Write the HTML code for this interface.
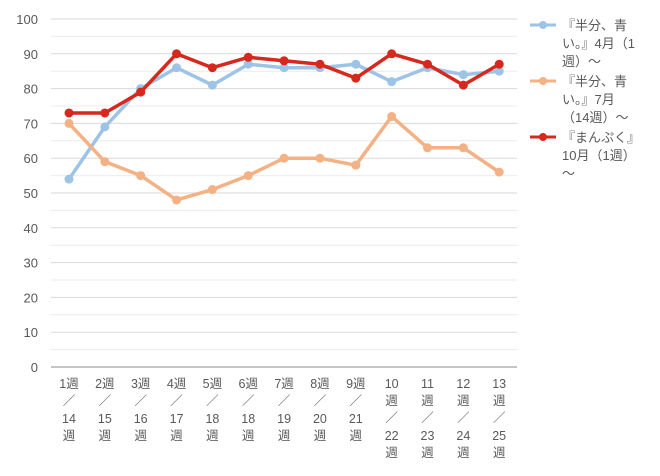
<!DOCTYPE html>
<html><head><meta charset="utf-8"><style>
body{margin:0;background:#fff}
svg text{font-family:"Liberation Sans","Noto Sans CJK JP",sans-serif;fill:#595959}
</style></head><body>
<svg width="660" height="471" xmlns="http://www.w3.org/2000/svg">
<g id="grid"></g>
<g id="lab"></g>
<g id="ser"></g>
<g font-size="13">
<line x1="530" y1="25" x2="556" y2="25" stroke="#9dc3e6" stroke-width="3"/><circle cx="543" cy="25" r="4" fill="#9dc3e6"/>
<text x="562" y="30">『半分、青</text><text x="562" y="48">い。』4月（1</text><text x="562" y="66">週）～</text>
<line x1="530" y1="81" x2="556" y2="81" stroke="#f4b183" stroke-width="3"/><circle cx="543" cy="81" r="4" fill="#f4b183"/>
<text x="562" y="86">『半分、青</text><text x="562" y="104">い。』7月</text><text x="562" y="122">（14週）～</text>
<line x1="530" y1="137" x2="556" y2="137" stroke="#d7281e" stroke-width="3"/><circle cx="543" cy="137" r="4" fill="#d7281e"/>
<text x="562" y="142">『まんぷく』</text><text x="562" y="160">10月（1週）</text><text x="562" y="178">～</text>
</g>
</svg>
<script>
const ns="http://www.w3.org/2000/svg";
function el(p,t,a,txt){const e=document.createElementNS(ns,t);for(const k in a)e.setAttribute(k,a[k]);if(txt!=null)e.textContent=txt;document.getElementById(p).appendChild(e);}
const Y=v=>367-3.48*v;
for(let v=0;v<=100;v+=5){
 el("grid","line",{x1:51,x2:517,y1:Y(v),y2:Y(v),stroke:v==0?"#888":(v%10?"#ececec":"#d9d9d9"),"stroke-width":1});
 if(v%10==0)el("lab","text",{x:38,y:Y(v)+5,"text-anchor":"end","font-size":13},v);
}
const X=i=>69+i*35.85;
const a=[14,15,16,17,18,18,19,20,21,22,23,24,25];
for(let i=0;i<13;i++){
 const n=i+1,x=X(i);
 let rows=n<10?[n+"週","／",a[i],"週"]:[n,"週","／",a[i],"週"];
 let ys=n<10?[388,405,423,440]:[388,405,422,440,457];
 rows.forEach((r,j)=>el("lab","text",{x:x,y:ys[j],"text-anchor":"middle","font-size":12.5},r));
}
const S=[["#9dc3e6",[54,69,80,86,81,87,86,86,87,82,86,84,85]],["#f4b183",[70,59,55,48,51,55,60,60,58,72,63,63,56]],["#d7281e",[73,73,79,90,86,89,88,87,83,90,87,81,87]]];
S.forEach(([c,d])=>{
 el("ser","polyline",{points:d.map((v,i)=>X(i)+","+Y(v)).join(" "),fill:"none",stroke:c,"stroke-width":3.5,"stroke-linejoin":"round"});
 d.forEach((v,i)=>el("ser","circle",{cx:X(i),cy:Y(v),r:4.5,fill:c}));
});
</script>
</body></html>
